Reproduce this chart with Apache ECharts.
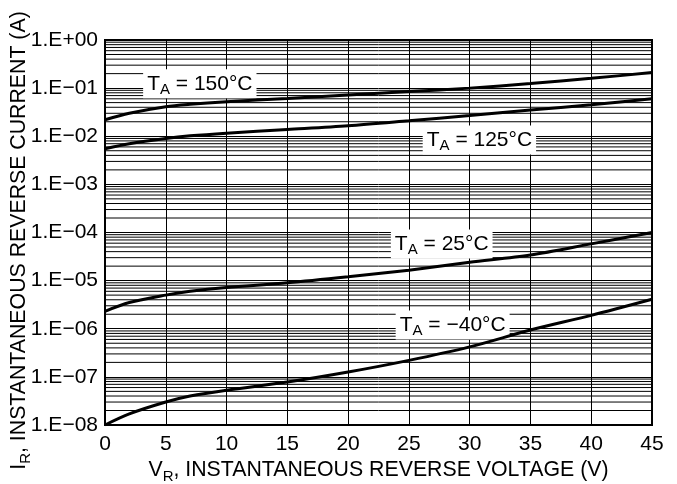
<!DOCTYPE html>
<html>
<head>
<meta charset="utf-8">
<script src="https://cdn.jsdelivr.net/npm/echarts@6/dist/echarts.min.js"></script>
<style>
  html, body { margin: 0; padding: 0; background: #fff; }
  #main { width: 677px; height: 484px; }
</style>
</head>
<body>
<div id="main"></div>
<script>
// 数据：反向电流 vs 反向电压
var voltage = [0, 2, 5, 7, 10, 15, 20, 25, 30, 35, 40, 45];
var t150 = [0.022, 0.03, 0.041, 0.046, 0.052, 0.061, 0.072, 0.085, 0.1, 0.125, 0.16, 0.21];
var t125 = [0.0055, 0.007, 0.009, 0.0102, 0.0116, 0.0138, 0.0165, 0.021, 0.027, 0.035, 0.045, 0.06];
var t25 = [2.3e-6, 3.5e-6, 5e-6, 6e-6, 7.2e-6, 9e-6, 1.2e-5, 1.65e-5, 2.4e-5, 3.4e-5, 5.8e-5, 1e-4];
var tm40 = [1e-8, 1.7e-8, 3e-8, 4e-8, 5.3e-8, 7.8e-8, 1.26e-7, 2.2e-7, 4.2e-7, 9.4e-7, 1.9e-6, 4.1e-6];

var yTickLabels = ['1.E\u221208', '1.E\u221207', '1.E\u221206', '1.E\u221205', '1.E\u221204',
                   '1.E\u221203', '1.E\u221202', '1.E\u221201', '1.E+00'];
var seriesNames = ['150', '125', '25', '\u221240'];
// 标签锚点（数据坐标）
var labelAt = [[7.8, 0.123], [30.8, 0.0084], [27.7, 5.8e-5], [28.6, 1.2e-6]];

var myChart = echarts.init(document.getElementById('main'));

function pairs(vals) {
    return voltage.map(function (v, i) { return [v, vals[i]]; });
}

// 对数次网格线 2..9（用断开的折线画）
var minorGrid = [];
for (var e = -8; e < 0; e++) {
    for (var m = 2; m <= 9; m++) {
        var v = m * Math.pow(10, e);
        minorGrid.push([0, v], [45, v], [45, '-']);
    }
}

var font = 'Liberation Sans, Arial, sans-serif';
var subRich = {
    t: { fontSize: 21, fontFamily: font, color: '#000' },
    s: { fontSize: 15, fontFamily: font, color: '#000', padding: [12, 0, 0, 0] }
};
var nameRich = {
    t: { fontSize: 21.3, fontFamily: font, color: '#000' },
    s: { fontSize: 15, fontFamily: font, color: '#000', padding: [12, 0, 0, 0] }
};

function curve(vals, idx) {
    return {
        type: 'line',
        data: pairs(vals),
        smooth: 0.3,
        symbol: 'none',
        lineStyle: { color: '#000', width: 3 },
        z: 5,
        markPoint: {
            symbol: 'rect',
            symbolSize: 0,
            silent: true,
            label: {
                show: true,
                position: 'inside',
                formatter: '{t|T}{s|A}{t| = ' + seriesNames[idx] + '\u00b0C}',
                backgroundColor: '#fff',
                padding: [1, 4, 1, 4],
                rich: subRich
            },
            data: [{ coord: labelAt[idx] }]
        }
    };
}

var option = {
    animation: false,
    grid: {
        left: 105, right: 25, top: 40, bottom: 59,
        outerBoundsMode: 'none',
        containLabel: false,
        show: true, borderColor: '#000', borderWidth: 2, backgroundColor: 'transparent'
    },
    xAxis: {
        type: 'value',
        min: 0, max: 45, interval: 5,
        axisLine: { show: true, lineStyle: { color: '#000', width: 2 } },
        axisTick: { show: false },
        axisLabel: { color: '#000', fontSize: 21, fontFamily: font, margin: 9 },
        splitLine: { show: true, lineStyle: { color: '#000', width: 1 } },
        name: 'V{s|R}{t|, INSTANTANEOUS REVERSE VOLTAGE (V)}',
        nameLocation: 'middle',
        nameGap: 32,
        nameMoveOverlap: false,
        nameTextStyle: { color: '#000', fontSize: 21.3, fontFamily: font, rich: nameRich }
    },
    yAxis: {
        type: 'log',
        logBase: 10,
        min: 1e-8, max: 1,
        axisLine: { show: true, lineStyle: { color: '#000', width: 2 } },
        axisTick: { show: false },
        axisLabel: {
            color: '#000', fontSize: 21, fontFamily: font, margin: 7,
            formatter: function (v) {
                var k = Math.round(Math.log10(v)) + 8;
                return yTickLabels[k] || '';
            }
        },
        splitLine: { show: true, lineStyle: { color: '#000', width: 1 } },
        name: 'I{s|R}{t|, INSTANTANEOUS REVERSE CURRENT (A)}',
        nameLocation: 'middle',
        nameGap: 72,
        nameMoveOverlap: false,
        nameTextStyle: {
            color: '#000', fontSize: 21.3, fontFamily: font, rich: nameRich,
            padding: [0, 16, 0, 0]
        }
    },
    series: [
        {
            type: 'line',
            data: minorGrid,
            silent: true,
            symbol: 'none',
            connectNulls: false,
            lineStyle: { color: '#000', width: 1 },
            z: 1
        },
        curve(t150, 0),
        curve(t125, 1),
        curve(t25, 2),
        curve(tm40, 3)
    ]
};

myChart.setOption(option);
</script>
</body>
</html>
